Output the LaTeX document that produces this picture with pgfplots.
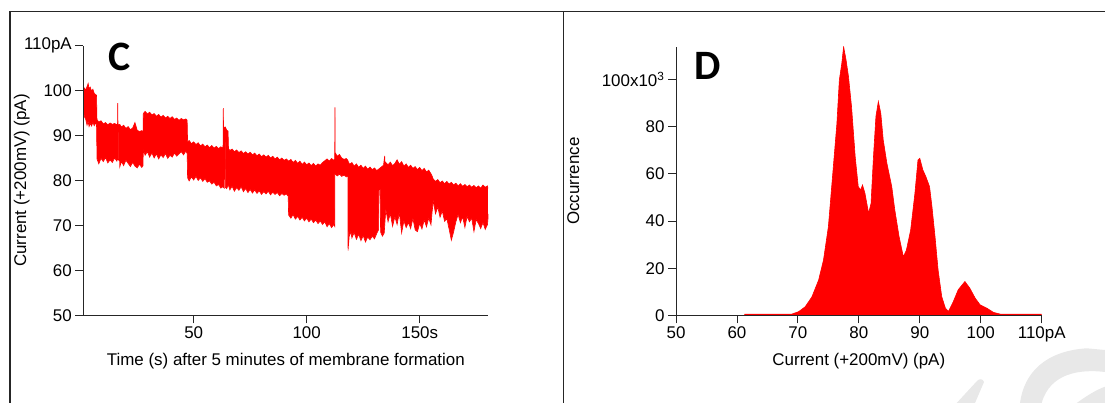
\documentclass[border=0pt]{standalone}
\usepackage{pgfplots}
\usepackage{pgfplotstable}
\pgfplotsset{compat=1.18}
\usepackage{fontspec}
\setmainfont{Liberation Sans}
\newfontfamily\panelfont{Carlito}
% upper envelope of the current trace (panel C)
\pgfplotstableread{
t I
1.15 100.2
1.6 100.6
2.2 100.1
2.8 100.9
3.3 101.6
3.7 100.4
4.2 100.8
4.8 99.9
5.4 100.3
6.0 99.4
6.6 99.1
7.0 99.0
7.2 93.6
8 93.0
9 93.3
10 92.6
11 92.9
12 92.4
13 92.8
14 92.5
15 92.7
16 92.4
16.3 92.6
16.4 97.2
16.5 92.5
17.3 92.5
18 91.9
19 92.3
20 91.6
21 92.0
22 91.3
23 91.7
24 92.9
25 91.2
26 90.9
27 91.1
27.6 90.8
27.7 94.9
28.5 95.4
29.5 94.8
30.5 95.2
31.5 94.6
32.5 94.9
33.5 94.3
34.5 94.7
35.5 94.1
36.5 94.5
37.5 93.9
38.5 94.3
39.5 93.8
40.5 94.2
41.5 93.6
42.5 93.9
43.5 93.4
44.5 93.8
45.5 93.5
46.5 93.7
47.1 93.4
47.3 88.6
48 88.9
49 88.2
50 88.6
51 88.0
52 88.4
53 87.7
54 88.1
55 87.5
56 87.9
57 87.3
58 87.8
59 87.2
60 87.6
61 87.1
62 87.5
62.9 87.2
63.0 88.0
63.1 96.1
63.2 91.8
64 91.9
64.6 91.2
65.2 91.0
65.4 87.1
66 86.7
67 87.0
68 86.4
69 86.8
70 86.2
71 86.6
72 86.0
73 86.4
74 85.9
75 86.3
76 85.7
77 86.1
78 85.5
79 85.9
80 85.3
81 85.7
82 85.2
83 85.6
84 85.0
85 85.4
86 84.8
87 85.2
88 84.6
89 85.0
90 84.5
91 84.8
91.8 84.4
92 84.3
93 84.7
94 84.0
95 84.5
96 83.8
97 84.3
98 83.6
99 84.1
100 83.5
101 83.9
102 83.3
103 83.8
104 83.2
105 83.7
106 83.4
107 84.0
108 84.4
109 84.8
110 84.3
111 84.9
112 84.5
112.4 84.7
112.5 96.3
112.6 86.2
113.5 85.4
114.5 85.8
115.5 85.0
116.5 84.7
117.5 84.9
118.2 84.5
118.3 84.3
119 83.6
120 84.0
121 83.2
122 83.7
123 82.9
124 83.4
125 82.7
126 83.2
127 82.5
128 83.0
129 82.4
130 82.8
131 82.2
132 82.6
133 83.0
134 83.4
134.5 85.5
134.7 83.6
135 84.0
136 83.5
137 84.1
138 83.3
139 83.8
140 84.6
141 83.6
142 84.2
143 83.2
144 83.7
145 82.9
146 83.4
147 82.7
148 83.1
149 82.4
150 82.9
151 82.2
152 82.7
153 81.9
154 82.3
155 81.5
155.5 81.0
156 80.3
157 79.8
158 80.2
159 79.5
160 79.9
161 79.3
162 79.8
163 79.2
164 79.6
165 79.0
166 79.4
167 78.8
168 79.3
169 78.7
170 79.1
171 78.6
172 79.0
173 78.5
174 78.9
175 78.4
176 78.8
177 78.3
178 79.0
179 78.5
180 78.8
180.2 78.2
}\tracehi
% lower envelope of the current trace (panel C)
\pgfplotstableread{
t I
1.15 95.5
1.6 94.2
2.2 93.6
2.8 92.3
3.3 93.1
3.7 92.0
4.2 92.7
4.8 92.1
5.4 92.9
6.0 92.2
6.6 92.8
7.0 92.4
7.2 84.8
8 83.7
9 84.9
10 84.2
11 85.1
12 83.9
13 84.6
14 84.0
15 85.0
16 84.3
16.3 84.8
16.9 84.5
16.95 91.2
17.25 91.2
17.3 83.0
18 84.2
19 83.3
20 84.5
21 83.8
22 83.1
23 84.0
24 83.2
25 82.8
26 83.6
27 82.9
27.6 83.3
27.7 86.8
28.5 85.6
29.5 86.4
30.5 85.2
31.5 86.1
32.5 85.0
33.5 85.9
34.5 84.8
35.5 85.7
36.5 85.1
37.5 86.0
38.5 84.9
39.5 85.6
40.5 85.2
41.5 86.1
42.5 85.4
43.5 85.9
44.5 86.4
45.5 85.7
46.5 86.5
47.1 86.0
47.3 80.6
48 79.9
49 80.8
50 80.1
51 80.9
52 80.0
53 80.6
54 79.8
55 80.4
56 79.6
57 79.9
58 79.2
59 79.6
60 78.8
61 79.1
62 78.3
62.9 78.6
63.5 78.3
63.6 88.5
63.9 88.5
64.0 78.5
64.6 78.2
65.3 79.0
65.4 78.9
66 77.9
67 78.7
68 77.6
69 78.4
70 77.8
71 78.6
72 77.5
73 78.2
74 77.3
75 78.0
76 77.2
77 77.9
78 77.1
79 77.7
80 76.9
81 77.5
82 77.0
83 77.6
84 76.8
85 77.4
86 76.9
87 77.3
88 76.6
89 77.1
90 76.7
91 77.0
91.8 76.5
92 72.3
93 71.6
94 72.4
95 71.4
96 72.0
97 71.2
98 71.8
99 71.0
100 71.6
101 70.8
102 71.4
103 70.6
104 71.2
105 70.4
106 71.0
107 70.2
108 70.8
109 69.7
110 70.4
111 69.5
112 70.2
112.4 69.8
112.5 81.5
113.5 81.0
114.5 81.4
115.5 80.9
116.5 81.2
117.5 80.8
118.2 81.0
118.3 64.4
118.8 67.5
119.5 68.6
120 67.2
121 68.4
122 66.9
123 68.0
124 66.6
125 67.7
126 66.3
127 67.4
128 66.8
129 67.6
130 67.0
131 68.2
131.8 69.0
132.0 78.0
132.5 78.0
132.7 68.5
133.5 67.6
134.3 68.3
135 73.5
136 70.8
137 72.6
138 69.8
139 71.9
140 70.2
141 72.8
142 68.3
143 71.0
144 69.5
145 70.6
146 69.3
147 71.5
148 69.0
149 68.6
150 70.4
151 69.2
152 71.2
153 69.7
154 71.6
155 70.1
155.5 73.0
156 75.5
157 72.6
158 74.1
159 71.8
160 73.2
161 70.9
162 71.5
163 69.2
164 66.7
165 68.5
166 70.8
167 72.4
168 70.6
169 71.9
170 69.5
171 72.0
172 70.8
173 71.6
174 68.6
175 71.3
176 70.4
177 69.3
178 70.6
179 69.1
180 70.2
180.4 72.5
180.8 72.5
}\tracelo
% histogram of panel D (thousands of counts)
\pgfplotstableread{
x n
61.2 0.6
69.0 0.6
70.1 1.6
71.2 3.7
72.3 7.9
73.4 15
74.2 23.5
75.0 37.6
75.5 53.2
76.4 81.4
76.8 99.8
77.2 106.8
77.5 113.9
77.7 111.1
77.9 108.3
78.3 101.2
78.8 88.5
79.4 67.3
79.9 54.6
80.3 53.2
80.6 55.3
81.0 51.8
81.6 43.3
82.0 47.5
82.4 67.3
82.8 84.3
83.2 90.7
83.6 85.7
84.0 74.4
84.6 64.5
85.4 54.6
85.9 44.7
86.6 33.4
87.3 24.9
87.8 27.7
88.5 36.2
89.2 51.8
89.7 65.9
90.0 66.6
90.5 61.7
91.0 58.8
91.6 54.6
92.0 46.0
92.5 33.4
93.0 19.3
93.6 8.0
94.2 3.1
94.7 1.7
95.5 5.9
96.3 10.9
97.4 14.4
98.2 11.6
99.1 7.3
99.9 4.5
101.0 3.1
102.1 1.3
103.2 0.6
110 0.6
}\histo
\begin{document}
\begin{tikzpicture}
\path[use as bounding box] (0bp,0bp) rectangle (1105bp,403bp);
% faint watermark strokes in the lower right corner
\fill[black!9] (956.7bp,0bp) -- (977bp,22bp) .. controls (979bp,24.5bp) and (983bp,24.5bp) .. (984bp,21bp) -- (975bp,0bp) -- cycle;
\fill[black!9] (1020bp,0bp) .. controls (1024bp,30bp) and (1045bp,52bp) .. (1086.7bp,54.7bp) -- (1105bp,53bp) -- (1105bp,31bp) .. controls (1080bp,34bp) and (1050bp,30bp) .. (1041.7bp,0bp) -- cycle;
\fill[black!9] (1076.7bp,0bp) .. controls (1088bp,8bp) and (1096bp,13bp) .. (1105bp,16.3bp) -- (1105bp,0bp) -- cycle;
\draw[line width=1.2bp, black!85] (10bp,0bp) -- (10bp,391.5bp) -- (1105bp,391.5bp);
\draw[line width=1.2bp, black!85] (563.3bp,0bp) -- (563.3bp,391.5bp);
\pgfplotsset{igor/.style={scale only axis, axis lines=left, axis on top,
  axis line style={-, line width=0.9bp, black!85},
  tick style={line width=0.9bp, black!85}, tick align=outside,
  major tick length=8bp, minor tick num=0,
  font=\fontsize{17}{20}\selectfont}}
% ---------------- Panel C ----------------
\begin{axis}[igor, at={(83.3bp,87.7bp)}, anchor=south west,
  width=405.1bp, height=269.6bp,
  xmin=1.15, xmax=180.4, ymin=50, ymax=110,
  xtick={50,100,150}, xticklabels={50,100,150s},
  ytick={50,60,70,80,90,100,110}, yticklabels={50,60,70,80,90,100,110pA},
  xlabel={Time (s) after 5 minutes of membrane formation},
  ylabel={Current (+200mV) (pA)},
  xlabel style={at={(axis description cs:0.5,-0.1688)}, anchor=center},
  ylabel style={at={(axis description cs:-0.152,0.5)}, anchor=center}]
\addplot[fill=red, draw=none] table[x=t, y=I] {\tracehi} \closedcycle;
\addplot[fill=white, draw=none] table[x=t, y=I] {\tracelo} \closedcycle;
\addplot[red, line width=0.6bp] table[x=t, y=I] {\tracehi};
\addplot[red, line width=0.6bp] table[x=t, y=I] {\tracelo};
\end{axis}
% ---------------- Panel D ----------------
\begin{axis}[igor, at={(676bp,87.5bp)}, anchor=south west,
  width=365.7bp, height=268.8bp,
  xmin=50, xmax=110, ymin=0, ymax=113.9,
  xtick={50,60,70,80,90,100,110}, xticklabels={50,60,70,80,90,100,110pA},
  ytick={0,20,40,60,80,100}, yticklabels={0,20,40,60,80,{100x10\textsuperscript{3}}},
  xlabel={Current (+200mV) (pA)},
  ylabel={Occurrence},
  xlabel style={at={(axis description cs:0.5,-0.1693)}, anchor=center},
  ylabel style={at={(axis description cs:-0.2808,0.5)}, anchor=center}]
\addplot[fill=red, draw=none] table[x=x, y=n] {\histo} \closedcycle;
\addplot[red, line width=0.6bp] table[x=x, y=n] {\histo};
\end{axis}
\node[font=\panelfont\bfseries\fontsize{42}{44}\selectfont] at (119.6bp,346.3bp) {C};
\node[font=\panelfont\bfseries\fontsize{42}{44}\selectfont] at (707.7bp,337.3bp) {D};
\end{tikzpicture}
\end{document}
